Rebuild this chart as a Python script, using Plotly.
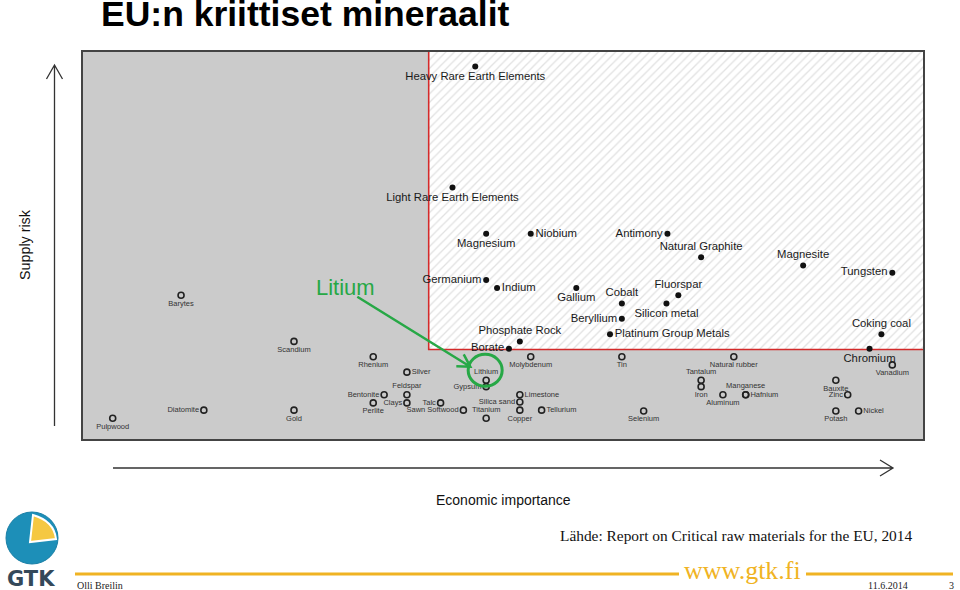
import plotly.graph_objects as go

# ---------------- data (economic importance, supply risk) ----------------
crit_names = ["Heavy Rare Earth Elements", "Light Rare Earth Elements", "Magnesium", "Niobium",
              "Antimony", "Natural Graphite", "Magnesite", "Tungsten", "Germanium", "Indium",
              "Gallium", "Cobalt", "Fluorspar", "Silicon metal", "Beryllium",
              "Platinum Group Metals", "Coking coal", "Phosphate Rock", "Borate", "Chromium"]
crit_ei = [5.47, 5.24, 5.58, 6.03, 7.41, 7.75, 8.78, 9.68, 5.58, 5.69,
           6.49, 6.95, 7.52, 7.40, 6.95, 6.83, 9.57, 5.92, 5.81, 9.45]
crit_sr = [4.13, 2.79, 2.28, 2.28, 2.28, 2.02, 1.93, 1.85, 1.77, 1.68,
           1.68, 1.51, 1.60, 1.51, 1.34, 1.17, 1.17, 1.09, 1.01, 1.01]
crit_pos = ["bottom center", "bottom center", "bottom center", "middle right",
            "middle left", "top center", "top center", "middle left", "middle left", "middle right",
            "bottom center", "top center", "top center", "bottom center", "middle left",
            "middle right", "top center", "top center", "middle left", "bottom center"]

non_names = ["Barytes", "Scandium", "Rhenium", "Silver", "Feldspar", "Bentonite", "Clays", "Perlite",
             "Talc", "Sawn Softwood", "Diatomite", "Gold", "Pulpwood", "Lithium", "Gypsum",
             "Titanium", "Silica sand", "Limestone", "Copper", "Tellurium", "Molybdenum", "Tin",
             "Natural rubber", "Tantalum", "Iron", "Aluminum", "Manganese", "Hafnium", "Bauxite",
             "Zinc", "Potash", "Nickel", "Vanadium", "Selenium"]
non_ei = [2.50, 3.64, 4.44, 4.78, 4.78, 4.55, 4.78, 4.44,
          5.12, 5.35, 2.73, 3.64, 1.81, 5.58, 5.58,
          5.58, 5.92, 5.92, 5.92, 6.14, 6.03, 6.95,
          8.08, 7.75, 7.75, 7.97, 8.20, 8.20, 9.11,
          9.23, 9.11, 9.34, 9.68, 7.17]
non_sr = [1.60, 1.09, 0.92, 0.75, 0.50, 0.50, 0.41, 0.41,
          0.41, 0.33, 0.33, 0.33, 0.24, 0.66, 0.59,
          0.24, 0.42, 0.50, 0.33, 0.33, 0.92, 0.92,
          0.92, 0.66, 0.59, 0.50, 0.50, 0.50, 0.66,
          0.50, 0.32, 0.32, 0.83, 0.32]
non_pos = ["bottom center", "bottom center", "bottom center", "middle right", "top center",
           "middle left", "middle left", "bottom center", "middle left", "middle left",
           "middle left", "bottom center", "bottom center", "top center", "middle left",
           "top center", "middle left", "middle right", "bottom center", "middle right",
           "bottom center", "bottom center", "bottom center", "top center", "bottom center",
           "bottom center", "top center", "middle right", "bottom center", "middle left",
           "bottom center", "middle right", "bottom center", "bottom center"]

EI_RANGE = [1.5, 10.0]
SR_RANGE = [0.0, 4.3]
EI_THRESHOLD = 5.0
SR_THRESHOLD = 1.0
HIGHLIGHT = (5.57, 0.77)      # circled material (Lithium)
ARROW_HEAD = (5.42, 0.81)

# ---------------- layout geometry helpers ----------------
W, H = 960, 590
L, R, T, B = 82, 924, 51, 440


def px(x):
    return (x - L) / (R - L)


def py(y):
    return (B - y) / (B - T)


GREEN = "#27a846"
GOLD = "#f0b323"
SANS = "Liberation Sans, Arial, sans-serif"
SERIF = "Liberation Serif, Times New Roman, serif"

fig = go.Figure()

# critical (hatched) zone
fig.add_trace(go.Scatter(
    x=[EI_THRESHOLD, EI_RANGE[1], EI_RANGE[1], EI_THRESHOLD, EI_THRESHOLD],
    y=[SR_THRESHOLD, SR_THRESHOLD, SR_RANGE[1], SR_RANGE[1], SR_THRESHOLD],
    mode="lines", fill="toself", fillcolor="white",
    fillpattern=dict(shape="/", fgcolor="#c4c4c4", bgcolor="white", size=6, solidity=0.22),
    line=dict(width=0), hoverinfo="skip", showlegend=False))
fig.add_trace(go.Scatter(
    x=[EI_THRESHOLD, EI_THRESHOLD, EI_RANGE[1]],
    y=[SR_RANGE[1], SR_THRESHOLD, SR_THRESHOLD],
    mode="lines", line=dict(color="#d42a2a", width=1.6), hoverinfo="skip", showlegend=False))

# non-critical materials
fig.add_trace(go.Scatter(
    x=non_ei, y=non_sr, text=non_names, textposition=non_pos, mode="markers+text",
    marker=dict(symbol="circle-open", size=6, color="#222", line=dict(width=1.6, color="#222")),
    textfont=dict(family=SANS, size=7.5, color="#333"), cliponaxis=False, showlegend=False))

# critical materials
fig.add_trace(go.Scatter(
    x=crit_ei, y=crit_sr, text=crit_names, textposition=crit_pos, mode="markers+text",
    marker=dict(symbol="circle", size=6, color="#111"),
    textfont=dict(family=SANS, size=11.3, color="#1a1a1a"), cliponaxis=False, showlegend=False))

shapes = []
# plot frame
shapes.append(dict(type="rect", xref="paper", yref="paper", x0=0, x1=1, y0=0, y1=1,
                   line=dict(color="#444", width=2), layer="above"))
# green circle around Lithium
shapes.append(dict(type="circle", xref="x", yref="y", xsizemode="pixel", ysizemode="pixel",
                   xanchor=HIGHLIGHT[0], yanchor=HIGHLIGHT[1], x0=-17, x1=17, y0=-16, y1=16,
                   line=dict(color=GREEN, width=3)))
# green arrow (pixel offsets from head)
shapes.append(dict(type="path", xref="x", yref="y", xsizemode="pixel", ysizemode="pixel",
                   xanchor=ARROW_HEAD[0], yanchor=ARROW_HEAD[1],
                   path="M -113 70 L 0 0 M -6.6 12.3 L 0 0 L -14 0.4",
                   line=dict(color=GREEN, width=2.5)))
# vertical (supply risk) axis arrow
shapes.append(dict(type="path", xref="paper", yref="paper",
                   path=f"M {px(54.5)} {py(426)} L {px(54.5)} {py(65)} "
                        f"M {px(46.5)} {py(79)} L {px(54.5)} {py(65)} L {px(62.5)} {py(79)}",
                   line=dict(color="#333", width=1.3)))
# horizontal (economic importance) axis arrow
shapes.append(dict(type="path", xref="paper", yref="paper",
                   path=f"M {px(113)} {py(468)} L {px(893)} {py(468)} "
                        f"M {px(880)} {py(460)} L {px(893)} {py(468)} L {px(880)} {py(476)}",
                   line=dict(color="#333", width=1.3)))
# footer gold lines
shapes.append(dict(type="line", xref="paper", yref="paper", x0=px(75), x1=px(679),
                   y0=py(574), y1=py(574), line=dict(color=GOLD, width=3)))
shapes.append(dict(type="line", xref="paper", yref="paper", x0=px(806), x1=px(953),
                   y0=py(574), y1=py(574), line=dict(color=GOLD, width=3)))
# GTK logo
shapes.append(dict(type="circle", xref="paper", yref="paper",
                   x0=px(6), x1=px(58), y0=py(564), y1=py(512),
                   fillcolor="#1d8fb8", line=dict(color="#1a7fa6", width=1)))
shapes.append(dict(type="path", xref="paper", yref="paper",
                   path=f"M {px(33)} {py(515)} L {px(30)} {py(542)} L {px(56)} {py(539)} "
                        f"Q {px(54)} {py(521)} {px(33)} {py(515)} Z",
                   fillcolor="#f5c842", line=dict(color="white", width=2)))

annotations = [
    dict(text="<b>EU:n kriittiset mineraalit</b>", xref="paper", yref="paper", x=px(99),
         y=py(14), xanchor="left", yanchor="middle", showarrow=False,
         font=dict(family=SANS, size=35.5, color="#000")),
    dict(text="Litium", xref="paper", yref="paper", x=px(345), y=py(287),
         xanchor="center", yanchor="middle", showarrow=False,
         font=dict(family=SANS, size=22, color=GREEN)),
    dict(text="Supply risk", xref="paper", yref="paper", x=px(25), y=py(245), textangle=-90,
         xanchor="center", yanchor="middle", showarrow=False,
         font=dict(family=SANS, size=14.3, color="#111")),
    dict(text="Economic importance", xref="paper", yref="paper", x=px(503), y=py(500),
         xanchor="center", yanchor="middle", showarrow=False,
         font=dict(family=SANS, size=14, color="#111")),
    dict(text="Lähde: Report on Critical raw materials for the EU, 2014", xref="paper",
         yref="paper", x=px(914), y=py(535), xanchor="right", yanchor="middle", showarrow=False,
         font=dict(family=SERIF, size=15.4, color="#111")),
    dict(text="www.gtk.fi", xref="paper", yref="paper", x=px(742), y=py(570),
         xanchor="center", yanchor="middle", showarrow=False,
         font=dict(family=SERIF, size=26, color=GOLD)),
    dict(text="Olli Breilin", xref="paper", yref="paper", x=px(75), y=py(585),
         xanchor="left", yanchor="middle", showarrow=False,
         font=dict(family=SERIF, size=10, color="#222")),
    dict(text="11.6.2014", xref="paper", yref="paper", x=px(910), y=py(585),
         xanchor="right", yanchor="middle", showarrow=False,
         font=dict(family=SERIF, size=10, color="#222")),
    dict(text="3", xref="paper", yref="paper", x=px(951), y=py(585),
         xanchor="center", yanchor="middle", showarrow=False,
         font=dict(family=SERIF, size=10, color="#222")),
    dict(text="<b>GTK</b>", xref="paper", yref="paper", x=px(31), y=py(579),
         xanchor="center", yanchor="middle", showarrow=False,
         font=dict(family="DejaVu Sans, sans-serif", size=21, color="#34495a")),
]

fig.update_layout(
    width=W, height=H, margin=dict(l=L, r=W - R, t=T, b=H - B),
    paper_bgcolor="white", plot_bgcolor="#cbcbcb",
    xaxis=dict(range=EI_RANGE, showgrid=False, zeroline=False, showticklabels=False,
               ticks="", showline=False),
    yaxis=dict(range=SR_RANGE, showgrid=False, zeroline=False, showticklabels=False,
               ticks="", showline=False),
    shapes=shapes, annotations=annotations, showlegend=False,
)

fig.write_html("out.html")
